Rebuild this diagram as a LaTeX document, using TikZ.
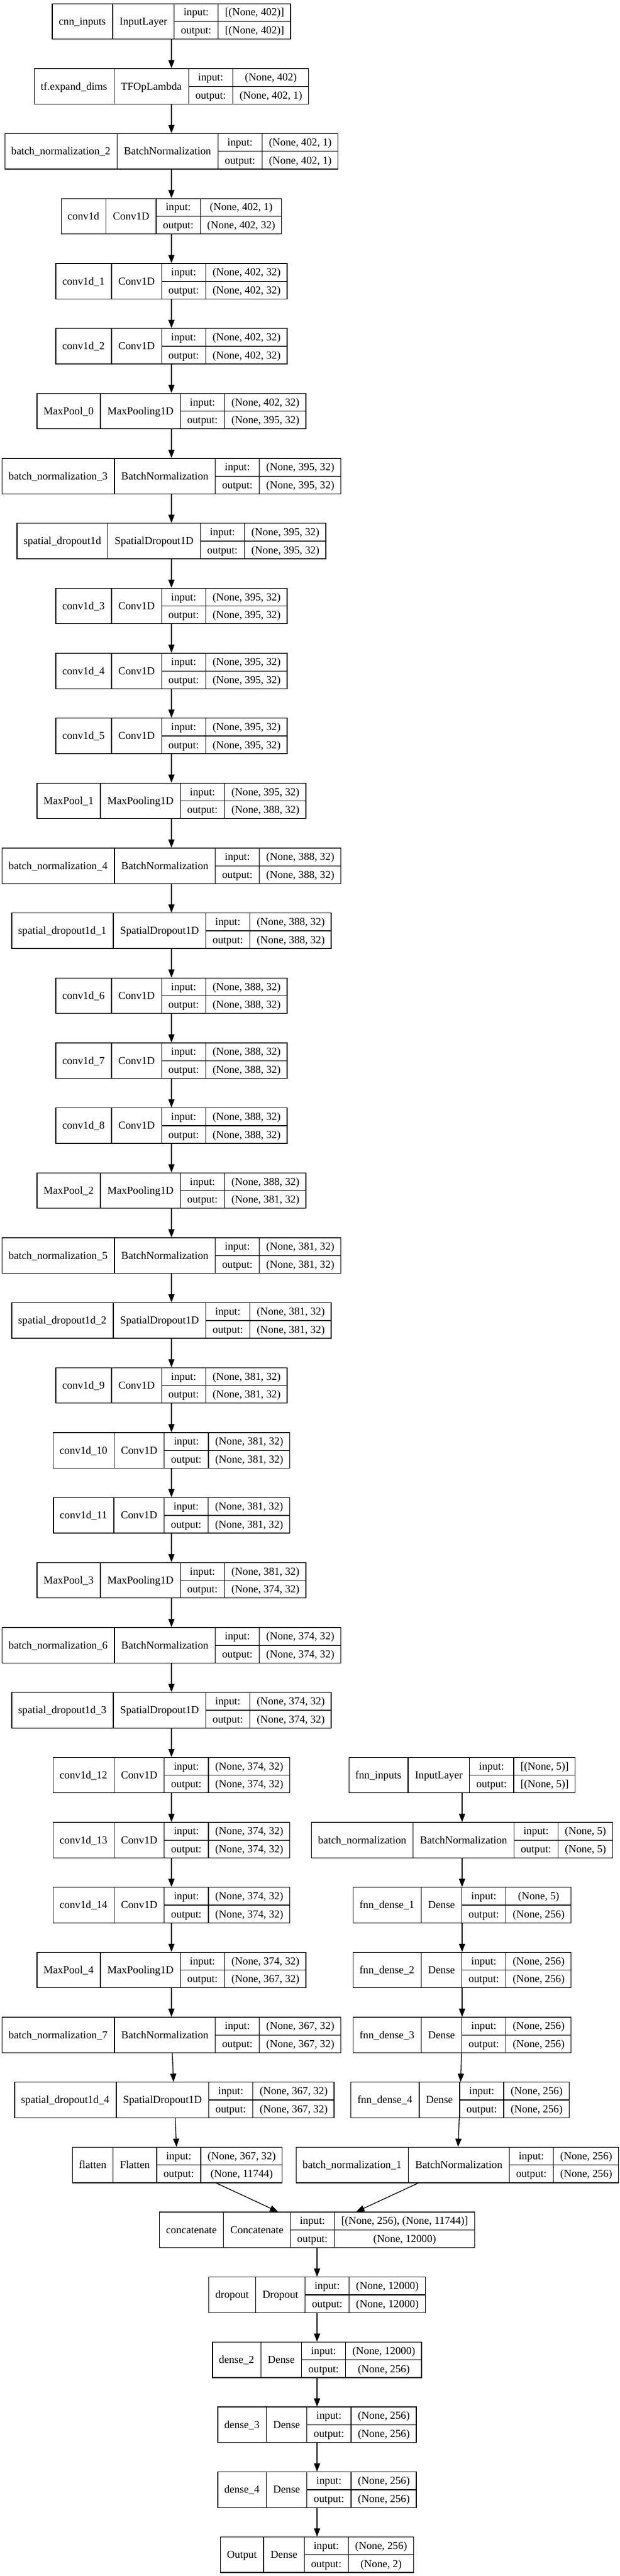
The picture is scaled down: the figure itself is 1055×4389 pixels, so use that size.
\documentclass[tikz,border=0pt]{standalone}
\usepackage{fontspec}
\setmainfont{Liberation Serif}
\usetikzlibrary{shapes.multipart,arrows.meta}
\setlength{\tabcolsep}{11pt}
\setlength{\arrayrulewidth}{1.3pt}
\renewcommand{\arraystretch}{1.343}
\newcommand{\fieldtab}[1]{\begin{tabular}{c}#1\end{tabular}}
\begin{document}
\begin{tikzpicture}[x=1pt, y=1pt,
    layer/.style={draw, line width=1.3pt, rectangle split, rectangle split horizontal,
      rectangle split parts=4, inner sep=0pt, font=\fontsize{18.3}{22}\selectfont},
    flow/.style={line width=1.3pt, -{Triangle[length=14pt, width=10.5pt]}}]
  \useasboundingbox (0,0) rectangle (1055,-4389);
  % layers: id / centre x / row / name / class / input / output
  \foreach \id/\x/\r/\nm/\cls/\ins/\outs in {
      cnnin/292/1/cnn\_inputs/InputLayer/{[(None, 402)]}/{[(None, 402)]},
      expand/292/2/tf.expand\_dims/TFOpLambda/{(None, 402)}/{(None, 402, 1)},
      bn2/292/3/batch\_normalization\_2/BatchNormalization/{(None, 402, 1)}/{(None, 402, 1)},
      conv0/292/4/conv1d/Conv1D/{(None, 402, 1)}/{(None, 402, 32)},
      conv1/292/5/conv1d\_1/Conv1D/{(None, 402, 32)}/{(None, 402, 32)},
      conv2/292/6/conv1d\_2/Conv1D/{(None, 402, 32)}/{(None, 402, 32)},
      pool0/292/7/MaxPool\_0/MaxPooling1D/{(None, 402, 32)}/{(None, 395, 32)},
      bn3/292/8/batch\_normalization\_3/BatchNormalization/{(None, 395, 32)}/{(None, 395, 32)},
      sdrop0/292/9/spatial\_dropout1d/SpatialDropout1D/{(None, 395, 32)}/{(None, 395, 32)},
      conv3/292/10/conv1d\_3/Conv1D/{(None, 395, 32)}/{(None, 395, 32)},
      conv4/292/11/conv1d\_4/Conv1D/{(None, 395, 32)}/{(None, 395, 32)},
      conv5/292/12/conv1d\_5/Conv1D/{(None, 395, 32)}/{(None, 395, 32)},
      pool1/292/13/MaxPool\_1/MaxPooling1D/{(None, 395, 32)}/{(None, 388, 32)},
      bn4/292/14/batch\_normalization\_4/BatchNormalization/{(None, 388, 32)}/{(None, 388, 32)},
      sdrop1/292/15/spatial\_dropout1d\_1/SpatialDropout1D/{(None, 388, 32)}/{(None, 388, 32)},
      conv6/292/16/conv1d\_6/Conv1D/{(None, 388, 32)}/{(None, 388, 32)},
      conv7/292/17/conv1d\_7/Conv1D/{(None, 388, 32)}/{(None, 388, 32)},
      conv8/292/18/conv1d\_8/Conv1D/{(None, 388, 32)}/{(None, 388, 32)},
      pool2/292/19/MaxPool\_2/MaxPooling1D/{(None, 388, 32)}/{(None, 381, 32)},
      bn5/292/20/batch\_normalization\_5/BatchNormalization/{(None, 381, 32)}/{(None, 381, 32)},
      sdrop2/292/21/spatial\_dropout1d\_2/SpatialDropout1D/{(None, 381, 32)}/{(None, 381, 32)},
      conv9/292/22/conv1d\_9/Conv1D/{(None, 381, 32)}/{(None, 381, 32)},
      conv10/292/23/conv1d\_10/Conv1D/{(None, 381, 32)}/{(None, 381, 32)},
      conv11/292/24/conv1d\_11/Conv1D/{(None, 381, 32)}/{(None, 381, 32)},
      pool3/292/25/MaxPool\_3/MaxPooling1D/{(None, 381, 32)}/{(None, 374, 32)},
      bn6/292/26/batch\_normalization\_6/BatchNormalization/{(None, 374, 32)}/{(None, 374, 32)},
      sdrop3/292/27/spatial\_dropout1d\_3/SpatialDropout1D/{(None, 374, 32)}/{(None, 374, 32)},
      conv12/292/28/conv1d\_12/Conv1D/{(None, 374, 32)}/{(None, 374, 32)},
      conv13/292/29/conv1d\_13/Conv1D/{(None, 374, 32)}/{(None, 374, 32)},
      conv14/292/30/conv1d\_14/Conv1D/{(None, 374, 32)}/{(None, 374, 32)},
      pool4/292/31/MaxPool\_4/MaxPooling1D/{(None, 374, 32)}/{(None, 367, 32)},
      bn7/292/32/batch\_normalization\_7/BatchNormalization/{(None, 367, 32)}/{(None, 367, 32)},
      sdrop4/297/33/spatial\_dropout1d\_4/SpatialDropout1D/{(None, 367, 32)}/{(None, 367, 32)},
      flat/302/34/flatten/Flatten/{(None, 367, 32)}/{(None, 11744)},
      fnnin/787/28/fnn\_inputs/InputLayer/{[(None, 5)]}/{[(None, 5)]},
      fbn/787/29/batch\_normalization/BatchNormalization/{(None, 5)}/{(None, 5)},
      fd1/787/30/fnn\_dense\_1/Dense/{(None, 5)}/{(None, 256)},
      fd2/787/31/fnn\_dense\_2/Dense/{(None, 256)}/{(None, 256)},
      fd3/787/32/fnn\_dense\_3/Dense/{(None, 256)}/{(None, 256)},
      fd4/783.5/33/fnn\_dense\_4/Dense/{(None, 256)}/{(None, 256)},
      fbn1/779/34/batch\_normalization\_1/BatchNormalization/{(None, 256)}/{(None, 256)},
      concat/540/35/concatenate/Concatenate/{[(None, 256), (None, 11744)]}/{(None, 12000)},
      drop/540/36/dropout/Dropout/{(None, 12000)}/{(None, 12000)},
      d2/540/37/dense\_2/Dense/{(None, 12000)}/{(None, 256)},
      d3/540/38/dense\_3/Dense/{(None, 256)}/{(None, 256)},
      d4/540/39/dense\_4/Dense/{(None, 256)}/{(None, 256)},
      out/540/40/Output/Dense/{(None, 256)}/{(None, 2)}}
    \node[layer] (\id) at (\x, {-36.5-(\r-1)*110.67})
      {\fieldtab{\nm}\nodepart{two}\fieldtab{\cls}\nodepart{three}\fieldtab{input:\\\hline output:}%
       \nodepart{four}\fieldtab{{}\ins\\\hline{}\outs}};
  % connections
  \foreach \a/\b in {cnnin/expand, expand/bn2, bn2/conv0, conv0/conv1, conv1/conv2,
      conv2/pool0, pool0/bn3, bn3/sdrop0, sdrop0/conv3, conv3/conv4, conv4/conv5,
      conv5/pool1, pool1/bn4, bn4/sdrop1, sdrop1/conv6, conv6/conv7, conv7/conv8,
      conv8/pool2, pool2/bn5, bn5/sdrop2, sdrop2/conv9, conv9/conv10, conv10/conv11,
      conv11/pool3, pool3/bn6, bn6/sdrop3, sdrop3/conv12, conv12/conv13, conv13/conv14,
      conv14/pool4, pool4/bn7, bn7/sdrop4, sdrop4/flat, flat/concat,
      fnnin/fbn, fbn/fd1, fd1/fd2, fd2/fd3, fd3/fd4, fd4/fbn1, fbn1/concat,
      concat/drop, drop/d2, d2/d3, d3/d4, d4/out}
    \draw[flow] (\a) -- (\b);
\end{tikzpicture}
\end{document}
